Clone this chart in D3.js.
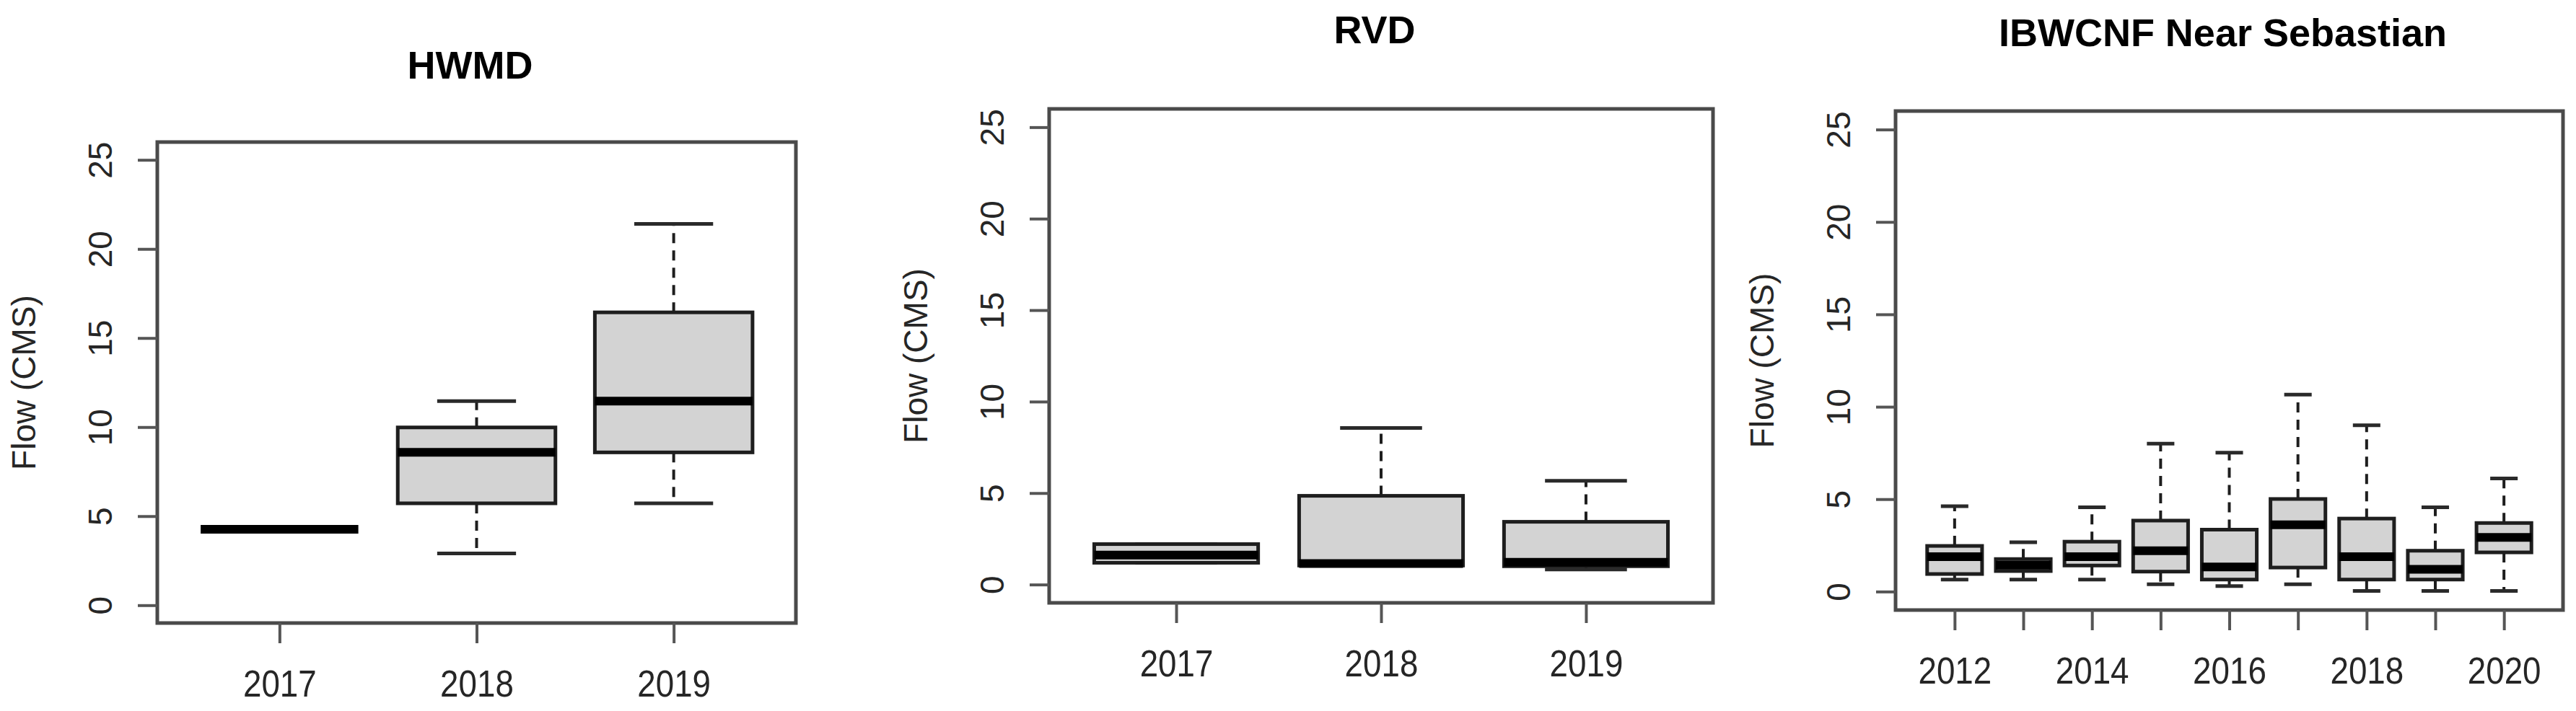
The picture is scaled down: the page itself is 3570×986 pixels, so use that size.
<!DOCTYPE html>
<html>
<head>
<meta charset="utf-8">
<script src="https://cdn.jsdelivr.net/npm/d3@7"></script>
<style>
  html, body { margin: 0; padding: 0; background: #fff; }
  svg { display: block; }
</style>
</head>
<body>
<div id="app"></div>
<script>
// ---- data (flow, CMS) ----
const hwmdYears = ['2017', '2018', '2019'];
const hwmdLow   = [4.26, 2.91, 5.72];
const hwmdQ1    = [4.26, 5.72, 8.58];
const hwmdMed   = [4.26, 8.58, 11.46];
const hwmdQ3    = [4.26, 9.98, 16.44];
const hwmdHigh  = [4.26, 11.46, 21.41];

const rvdYears = ['2017', '2018', '2019'];
const rvdLow   = [1.19, 1.04, 0.82];
const rvdQ1    = [1.19, 1.04, 1.00];
const rvdMed   = [1.61, 1.15, 1.22];
const rvdQ3    = [2.21, 4.85, 3.43];
const rvdHigh  = [2.21, 8.56, 5.67];

const ibwcYears = ['2012', '2013', '2014', '2015', '2016', '2017', '2018', '2019', '2020'];
const ibwcTickLabels = ['2012', '', '2014', '', '2016', '', '2018', '', '2020'];
const ibwcLow  = [0.65, 0.65, 0.65, 0.39, 0.30, 0.39, 0.03, 0.03, 0.03];
const ibwcQ1   = [0.95, 1.11, 1.41, 1.08, 0.65, 1.30, 0.65, 0.65, 2.12];
const ibwcMed  = [1.89, 1.43, 1.89, 2.21, 1.33, 3.61, 1.89, 1.20, 2.93];
const ibwcQ3   = [2.47, 1.76, 2.70, 3.84, 3.35, 5.01, 3.95, 2.21, 3.71];
const ibwcHigh = [4.62, 2.67, 4.56, 8.00, 7.52, 10.66, 9.00, 4.56, 6.12];

const yTicks = [0, 5, 10, 15, 20, 25];
const yLabel = 'Flow (CMS)';

const W = 3570, H = 986;
const FONT = '"Liberation Sans", Arial, Helvetica, sans-serif';
const INK = '#262626';

const svg = d3.select('#app')
  .append('svg')
  .attr('width', W)
  .attr('height', H);

function drawPanel(p) {
  const n = p.years.length;
  const pad = 0.04 * n;
  const x = d3.scaleLinear()
    .domain([0.5 - pad, n + 0.5 + pad])
    .range([p.left, p.right]);
  const y = d3.scaleLinear()
    .domain([-1, 26])
    .range([p.bottom, p.top]);

  const g = svg.append('g');

  const boxes = p.years.map((yr, i) => ({
    pos: i + 1,
    low: p.low[i], q1: p.q1[i], med: p.med[i], q3: p.q3[i], high: p.high[i]
  }));

  const halfBox = (x(1.4) - x(1)) ;       // boxwex 0.8
  const halfCap = halfBox / 2;              // staplewex 0.5

  const b = g.selectAll('.box')
    .data(boxes)
    .enter().append('g')
    .attr('class', 'box');

  // whiskers (dashed)
  b.append('line')
    .attr('x1', d => x(d.pos)).attr('x2', d => x(d.pos))
    .attr('y1', d => y(d.q3)).attr('y2', d => y(d.high))
    .attr('stroke', '#1e1e1e').attr('stroke-width', 4)
    .attr('stroke-dasharray', '14,10');
  b.append('line')
    .attr('x1', d => x(d.pos)).attr('x2', d => x(d.pos))
    .attr('y1', d => y(d.q1)).attr('y2', d => y(d.low))
    .attr('stroke', '#1e1e1e').attr('stroke-width', 4)
    .attr('stroke-dasharray', '14,10');

  // staples
  b.append('line')
    .attr('x1', d => x(d.pos) - halfCap).attr('x2', d => x(d.pos) + halfCap)
    .attr('y1', d => y(d.high)).attr('y2', d => y(d.high))
    .attr('stroke', '#2a2a2a').attr('stroke-width', 5);
  b.append('line')
    .attr('x1', d => x(d.pos) - halfCap).attr('x2', d => x(d.pos) + halfCap)
    .attr('y1', d => y(d.low)).attr('y2', d => y(d.low))
    .attr('stroke', '#2a2a2a').attr('stroke-width', 5);

  // box
  b.append('rect')
    .attr('x', d => x(d.pos) - halfBox)
    .attr('width', 2 * halfBox)
    .attr('y', d => y(d.q3))
    .attr('height', d => Math.max(0, y(d.q1) - y(d.q3)))
    .attr('fill', '#d3d3d3')
    .attr('stroke', '#1e1e1e')
    .attr('stroke-width', 5);

  // median
  b.append('line')
    .attr('x1', d => x(d.pos) - halfBox).attr('x2', d => x(d.pos) + halfBox)
    .attr('y1', d => y(d.med)).attr('y2', d => y(d.med))
    .attr('stroke', '#000').attr('stroke-width', 12);

  // plot frame
  g.append('rect')
    .attr('x', p.left).attr('y', p.top)
    .attr('width', p.right - p.left)
    .attr('height', p.bottom - p.top)
    .attr('fill', 'none')
    .attr('stroke', '#4a4a4a')
    .attr('stroke-width', 5);

  // y axis
  const yAxis = g.append('g')
    .attr('transform', `translate(${p.left},0)`)
    .call(d3.axisLeft(y).tickValues(yTicks).tickSize(27).tickFormat(d3.format('d')));
  yAxis.select('.domain').remove();
  yAxis.selectAll('.tick line').attr('stroke', '#555').attr('stroke-width', 4);
  yAxis.selectAll('.tick text')
    .attr('x', null).attr('dy', null)
    .attr('text-anchor', 'middle')
    .attr('transform', 'translate(-79,0) rotate(-90) translate(0,16)')
    .attr('fill', INK)
    .style('font-family', FONT)
    .style('font-size', '46px');

  // x axis
  const xAxis = g.append('g')
    .attr('transform', `translate(0,${p.bottom})`)
    .call(d3.axisBottom(x)
      .tickValues(d3.range(1, n + 1))
      .tickSize(28)
      .tickFormat((d, i) => p.tickLabels[i]));
  xAxis.select('.domain').remove();
  xAxis.selectAll('.tick line').attr('stroke', '#555').attr('stroke-width', 4);
  xAxis.selectAll('.tick text')
    .attr('y', null).attr('dy', null)
    .attr('transform', 'translate(0,102) scale(0.88,1)')
    .attr('fill', INK)
    .style('font-family', FONT)
    .style('font-size', '52px');

  // y label
  g.append('text')
    .attr('transform', `translate(${p.left - 185},${(p.top + p.bottom) / 2}) rotate(-90) translate(0,16)`)
    .attr('text-anchor', 'middle')
    .attr('fill', INK)
    .style('font-family', FONT)
    .style('font-size', '46px')
    .text(yLabel);

  // title
  g.append('text')
    .attr('x', (p.left + p.right) / 2 - 9)
    .attr('y', p.titleY)
    .attr('text-anchor', 'middle')
    .attr('fill', '#000')
    .style('font-family', FONT)
    .style('font-weight', 'bold')
    .style('font-size', '54px')
    .text(p.title);
}

drawPanel({
  title: 'HWMD', titleY: 109,
  left: 218, right: 1103, top: 197, bottom: 864,
  years: hwmdYears, tickLabels: hwmdYears,
  low: hwmdLow, q1: hwmdQ1, med: hwmdMed, q3: hwmdQ3, high: hwmdHigh
});

drawPanel({
  title: 'RVD', titleY: 60,
  left: 1454, right: 2374, top: 151, bottom: 836,
  years: rvdYears, tickLabels: rvdYears,
  low: rvdLow, q1: rvdQ1, med: rvdMed, q3: rvdQ3, high: rvdHigh
});

drawPanel({
  title: 'IBWCNF Near Sebastian', titleY: 64,
  left: 2627, right: 3552, top: 154, bottom: 846,
  years: ibwcYears, tickLabels: ibwcTickLabels,
  low: ibwcLow, q1: ibwcQ1, med: ibwcMed, q3: ibwcQ3, high: ibwcHigh
});
</script>
</body>
</html>
